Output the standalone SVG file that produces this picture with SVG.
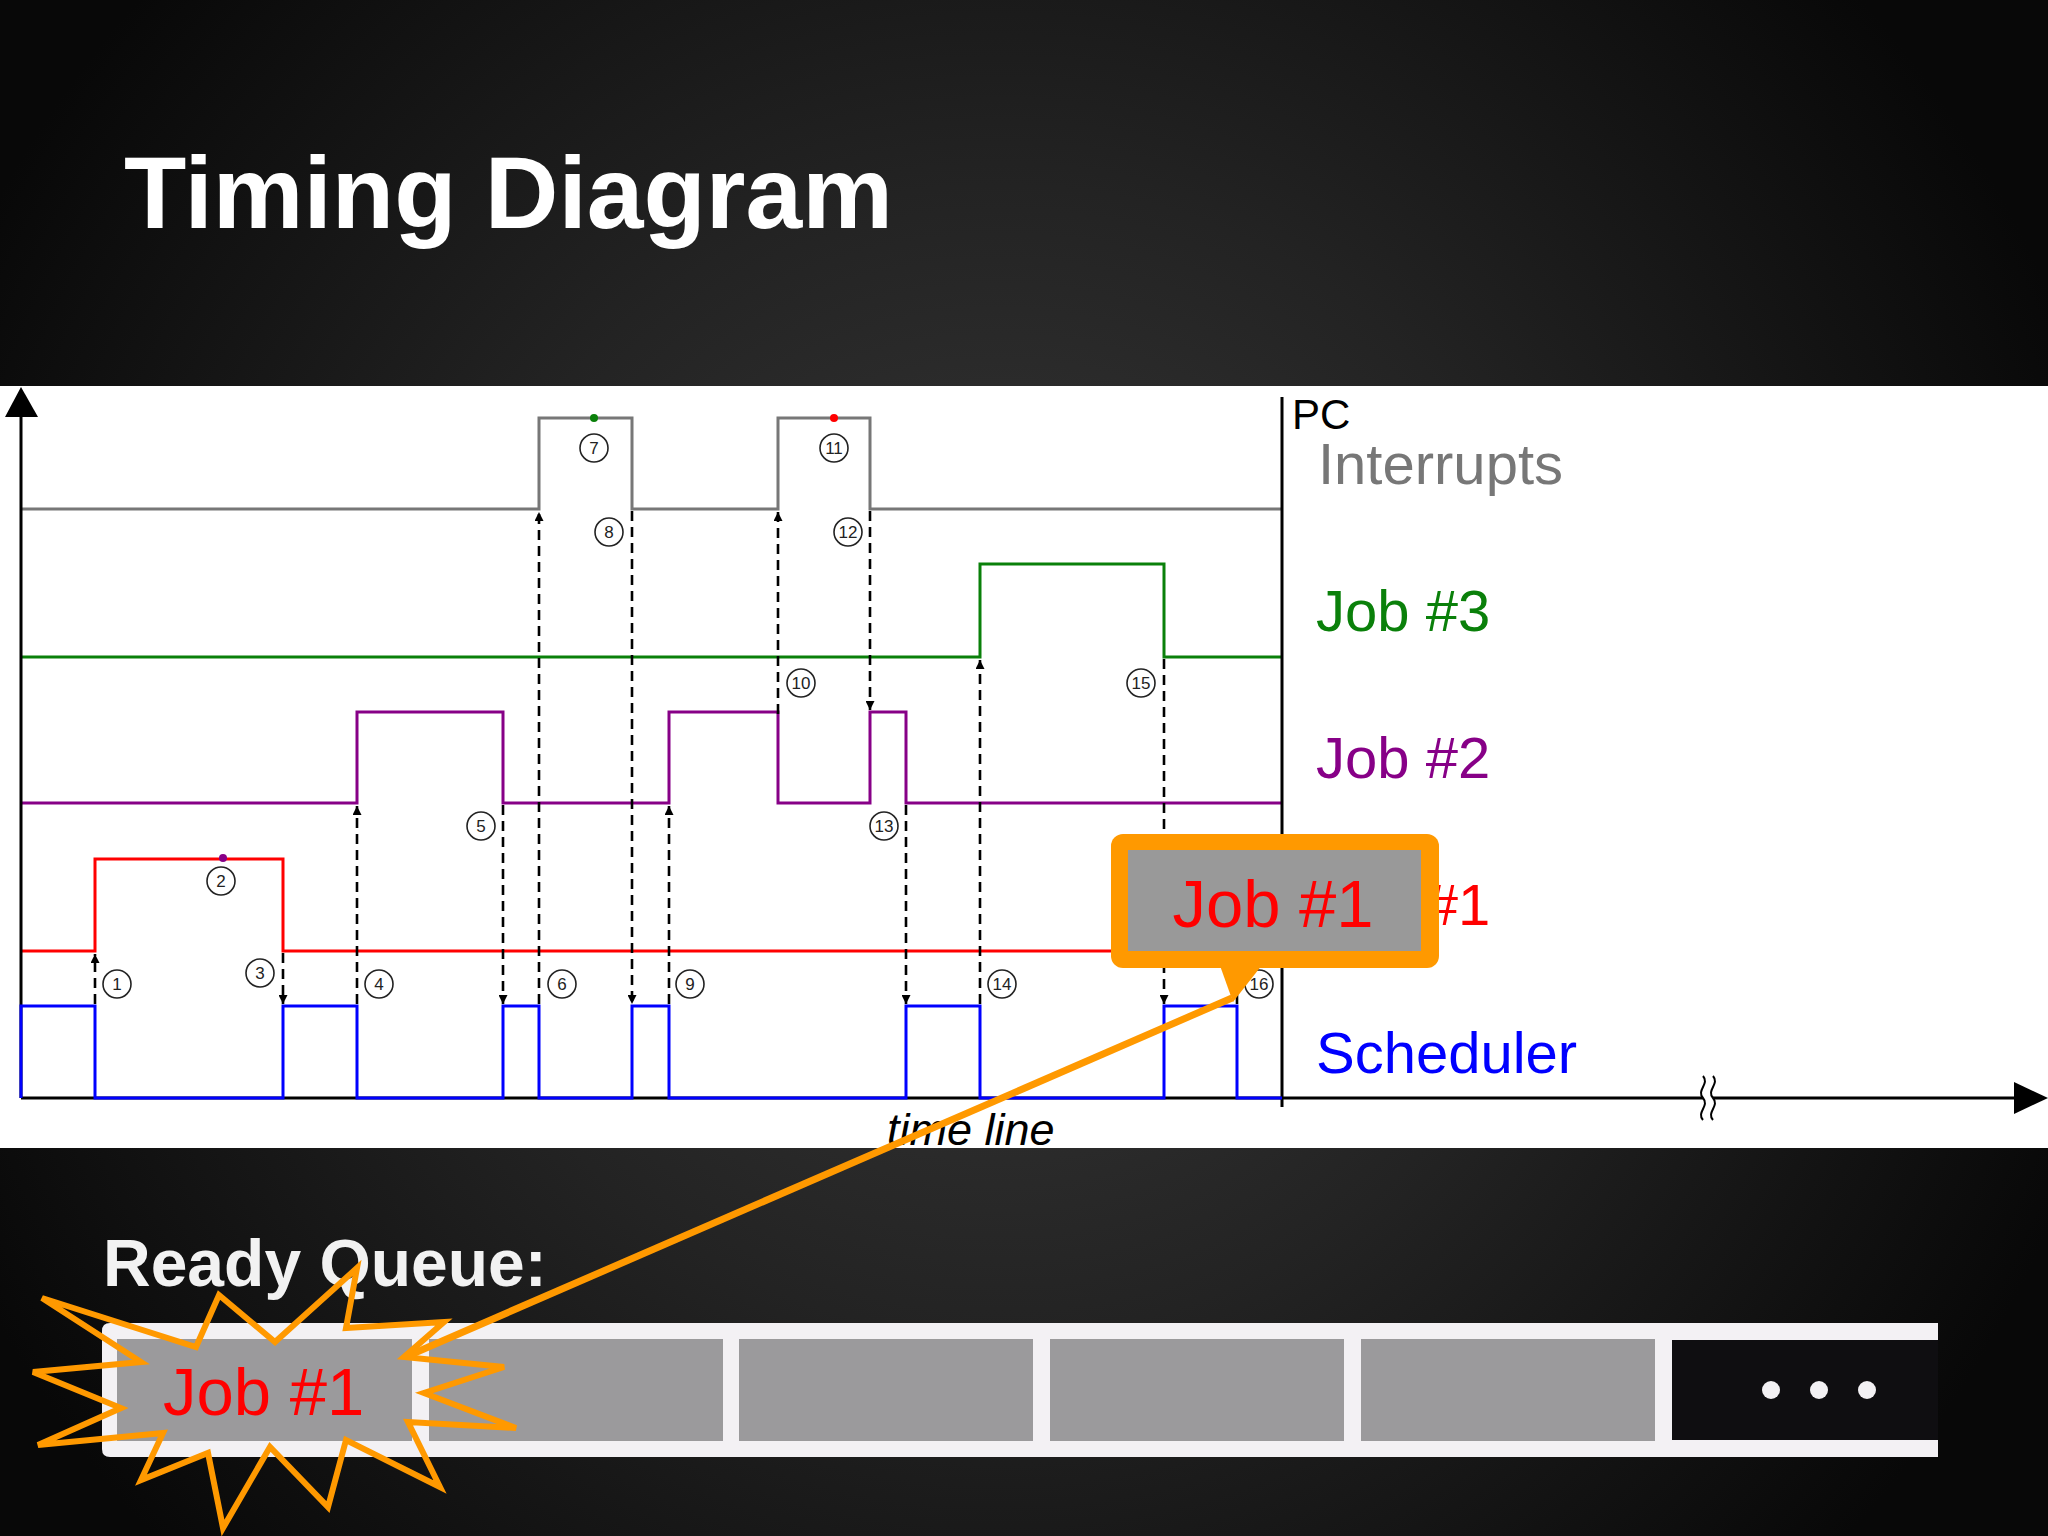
<svg xmlns="http://www.w3.org/2000/svg" width="2048" height="1536" viewBox="0 0 2048 1536">
<defs>
<radialGradient id="bg" cx="1000" cy="760" r="1150" gradientUnits="userSpaceOnUse">
<stop offset="0" stop-color="#3a3a3a"/>
<stop offset="0.5" stop-color="#232323"/>
<stop offset="1" stop-color="#080808"/>
</radialGradient>
<marker id="ah" viewBox="0 0 10 10" refX="10" refY="5" markerWidth="10" markerHeight="9" markerUnits="userSpaceOnUse" orient="auto">
<path d="M0,0 L10,5 L0,10 z" fill="#000"/>
</marker>
</defs>
<style>
.sig{fill:none;stroke-width:3;stroke-linejoin:miter}
.dash{stroke:#000;stroke-width:2.6;stroke-dasharray:10 6;marker-end:url(#ah)}
.cn{fill:#fff;stroke:#222;stroke-width:1.6}
.ct{font-family:'Liberation Sans',Arial,sans-serif;font-size:17px;text-anchor:middle;fill:#222}
.lbl{font-family:'Liberation Sans',Arial,sans-serif;font-size:58px}
.cell{fill:#9b9a9c}
</style>
<rect x="0" y="0" width="2048" height="1536" fill="url(#bg)"/>
<text x="124" y="228" font-family="'Liberation Sans',Arial,sans-serif" font-weight="bold" font-size="102" fill="#fff">Timing Diagram</text>
<rect x="0" y="386" width="2048" height="762" fill="#fff"/>

<g id="signals">
<path class="sig" stroke="#777" d="M21,509 H539 V418 H632 V509 H778 V418 H870 V509 H1282"/>
<path class="sig" stroke="#0a800a" d="M21,657 H980 V564 H1164 V657 H1282"/>
<path class="sig" stroke="#870087" d="M21,803 H357 V712 H503 V803 H669 V712 H778 V803 H870 V712 H906 V803 H1282"/>
<path class="sig" stroke="#ff0000" d="M21,951 H95 V859 H283 V951 H1282"/>
</g>

<g id="axes">
<line x1="21" y1="414" x2="21" y2="1098" stroke="#000" stroke-width="3"/>
<polygon points="21,387 5,417 38,417" fill="#000"/>
<line x1="21" y1="1098" x2="2016" y2="1098" stroke="#000" stroke-width="3"/>
<polygon points="2014,1082 2048,1098 2014,1114" fill="#000"/>
<line x1="1282" y1="397" x2="1282" y2="1107" stroke="#000" stroke-width="3"/>
<path d="M1703,1076 c7,8 -7,14 0,22 c7,8 -7,14 0,22 L1713,1120 c-7,-8 7,-14 0,-22 c-7,-8 7,-14 0,-22 z" fill="#fff"/>
<path d="M1703,1076 c7,8 -7,14 0,22 c7,8 -7,14 0,22" fill="none" stroke="#000" stroke-width="2"/>
<path d="M1713,1076 c7,8 -7,14 0,22 c7,8 -7,14 0,22" fill="none" stroke="#000" stroke-width="2"/>
</g>

<g id="scheduler">
<path class="sig" stroke="#0000ff" d="M21,1098 V1006 H95 V1098 H283 V1006 H357 V1098 H503 V1006 H539 V1098 H632 V1006 H669 V1098 H906 V1006 H980 V1098 H1164 V1006 H1237 V1098 H1282"/>
</g>

<g id="connectors">
<line class="dash" x1="95" y1="1004" x2="95" y2="954"/>
<line class="dash" x1="283" y1="953" x2="283" y2="1004"/>
<line class="dash" x1="357" y1="1004" x2="357" y2="806"/>
<line class="dash" x1="503" y1="805" x2="503" y2="1004"/>
<line class="dash" x1="539" y1="1004" x2="539" y2="512"/>
<line class="dash" x1="632" y1="511" x2="632" y2="1004"/>
<line class="dash" x1="669" y1="1004" x2="669" y2="806"/>
<line class="dash" x1="778" y1="714" x2="778" y2="512"/>
<line class="dash" x1="870" y1="511" x2="870" y2="710"/>
<line class="dash" x1="906" y1="805" x2="906" y2="1004"/>
<line class="dash" x1="980" y1="1004" x2="980" y2="660"/>
<line class="dash" x1="1164" y1="659" x2="1164" y2="1004"/>
<line class="dash" x1="1237" y1="1004" x2="1237" y2="954"/>
</g>

<g id="markers">
<circle cx="223" cy="858" r="4" fill="#870087"/>
<circle cx="594" cy="418" r="4" fill="#0a800a"/>
<circle cx="834" cy="418" r="4" fill="#ff0000"/>
<g id="n1"><circle class="cn" cx="117" cy="984" r="14"/><text class="ct" x="117" y="990">1</text></g>
<g id="n2"><circle class="cn" cx="221" cy="881" r="14" stroke="#9a2a9a"/><text class="ct" x="221" y="887" fill="#9a2a9a">2</text></g>
<g id="n3"><circle class="cn" cx="260" cy="973" r="14"/><text class="ct" x="260" y="979">3</text></g>
<g id="n4"><circle class="cn" cx="379" cy="984" r="14"/><text class="ct" x="379" y="990">4</text></g>
<g id="n5"><circle class="cn" cx="481" cy="826" r="14"/><text class="ct" x="481" y="832">5</text></g>
<g id="n6"><circle class="cn" cx="562" cy="984" r="14"/><text class="ct" x="562" y="990">6</text></g>
<g id="n7"><circle class="cn" cx="594" cy="448" r="14" stroke="#2a9a2a"/><text class="ct" x="594" y="454" fill="#2a9a2a">7</text></g>
<g id="n8"><circle class="cn" cx="609" cy="532" r="14"/><text class="ct" x="609" y="538">8</text></g>
<g id="n9"><circle class="cn" cx="690" cy="984" r="14"/><text class="ct" x="690" y="990">9</text></g>
<g id="n10"><circle class="cn" cx="801" cy="683" r="14"/><text class="ct" x="801" y="689">10</text></g>
<g id="n11"><circle class="cn" cx="834" cy="448" r="14" stroke="#ff2020"/><text class="ct" x="834" y="454" fill="#ff2020">11</text></g>
<g id="n12"><circle class="cn" cx="848" cy="532" r="14"/><text class="ct" x="848" y="538">12</text></g>
<g id="n13"><circle class="cn" cx="884" cy="826" r="14"/><text class="ct" x="884" y="832">13</text></g>
<g id="n14"><circle class="cn" cx="1002" cy="984" r="14"/><text class="ct" x="1002" y="990">14</text></g>
<g id="n15"><circle class="cn" cx="1141" cy="683" r="14"/><text class="ct" x="1141" y="689">15</text></g>
<g id="n16"><circle class="cn" cx="1259" cy="984" r="14"/><text class="ct" x="1259" y="990">16</text></g>
</g>

<g id="labels">
<text x="1292" y="429" font-family="'Liberation Sans',Arial,sans-serif" font-size="42" fill="#000">PC</text>
<text class="lbl" x="1318" y="484" fill="#777">Interrupts</text>
<text class="lbl" x="1316" y="631" fill="#0a800a">Job #3</text>
<text class="lbl" x="1316" y="778" fill="#870087">Job #2</text>
<text class="lbl" x="1316" y="925" fill="#ff0000">Job #1</text>
<text class="lbl" x="1316" y="1073" fill="#0000ff">Scheduler</text>
<text x="887" y="1145" font-family="'Liberation Sans',Arial,sans-serif" font-style="italic" font-size="45" fill="#000">time line</text>
</g>

<g id="callout">
<polygon points="1218,960 1266,960 1233,1002" fill="#ff9900"/>
<rect x="1111" y="834" width="328" height="134" rx="12" fill="#ff9900"/>
<rect x="1128" y="850" width="293" height="101" fill="#999999"/>
<text x="1273" y="927" font-family="'Liberation Sans',Arial,sans-serif" font-size="67" fill="#ff0000" text-anchor="middle">Job #1</text>
</g>

<g id="ready-queue">
<text x="103" y="1286" font-family="'Liberation Sans',Arial,sans-serif" font-weight="bold" font-size="66" fill="#f2f2f2">Ready Queue:</text>
<path d="M110,1323 H1938 V1457 H110 Q102,1457 102,1449 V1331 Q102,1323 110,1323 z" fill="#f3f1f4"/>
<rect class="cell" x="117" y="1339" width="295" height="102"/>
<rect class="cell" x="429" y="1339" width="294" height="102"/>
<rect class="cell" x="739" y="1339" width="294" height="102"/>
<rect class="cell" x="1050" y="1339" width="294" height="102"/>
<rect class="cell" x="1361" y="1339" width="294" height="102"/>
<rect x="1672" y="1340" width="266" height="100" fill="#0f0e11"/>
<circle cx="1771" cy="1390" r="9" fill="#f3f1f4"/>
<circle cx="1819" cy="1390" r="9" fill="#f3f1f4"/>
<circle cx="1867" cy="1390" r="9" fill="#f3f1f4"/>
<text x="163" y="1415" font-family="'Liberation Sans',Arial,sans-serif" font-size="67" fill="#ff0000">Job #1</text>
</g>

<g id="callout-link">
<line x1="1232" y1="998" x2="410" y2="1355" stroke="#ff9900" stroke-width="7"/>
</g>

<g id="starburst">
<polygon points="42,1298 196,1347 219,1295 275,1342 357,1268 346,1328 444,1322 404,1357 504,1367 424,1393 516,1428 408,1422 440,1487 346,1440 328,1507 270,1447 223,1528 208,1453 141,1480 163,1433 38,1445 121,1408 33,1372 141,1362" fill="none" stroke="#ff9900" stroke-width="6" stroke-linejoin="miter"/>
</g>
</svg>
